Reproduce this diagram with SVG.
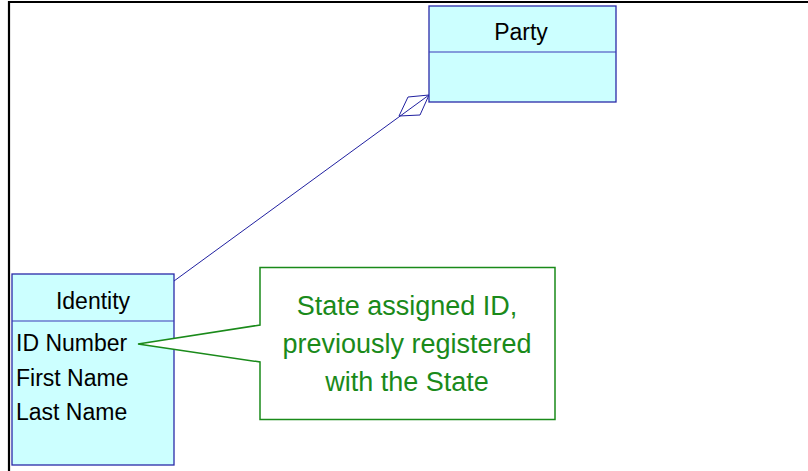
<svg xmlns="http://www.w3.org/2000/svg" width="808" height="471" viewBox="0 0 808 471">
<style>
.cls{fill:#ccffff;stroke:#2a2aa8;stroke-width:1.3}
.div{stroke:#3a3ab8;stroke-width:1.2;fill:none}
.t{font-family:"Liberation Sans",Arial,sans-serif;font-size:23px;fill:#000}
.note{fill:#fff;stroke:#1a8a1a;stroke-width:1.5}
.nt{font-family:"Liberation Sans",Arial,sans-serif;font-size:27px;fill:#1a8a1a;text-anchor:middle}
.conn{stroke:#2020a0;stroke-width:1;fill:none}
</style>
<rect x="0" y="0" width="808" height="471" fill="#fff"/>
<path d="M9 471 V2 H808" fill="none" stroke="#000" stroke-width="2.2"/>
<g id="connectors">
<line class="conn" x1="174" y1="281" x2="429" y2="95"/>
<polygon class="conn" points="429,95 408,97 399,116 420,115"/>
</g>
<g id="party">
<rect class="cls" x="429" y="6" width="187" height="96"/>
<line class="div" x1="429" y1="52" x2="616" y2="52"/>
<text class="t" x="521" y="40" text-anchor="middle">Party</text>
</g>
<g id="identity">
<rect class="cls" x="12" y="274" width="162" height="191"/>
<line class="div" x1="12" y1="321" x2="174" y2="321"/>
<text class="t" x="93" y="309" text-anchor="middle">Identity</text>
<text class="t" x="16" y="351">ID Number</text>
<text class="t" x="16" y="386">First Name</text>
<text class="t" x="16" y="420">Last Name</text>
</g>
<g id="note">
<path class="note" d="M260 267.5 H555 V419.5 H260 V362 L138 344 L260 325 Z"/>
<text class="nt" x="407" y="315">State assigned ID,</text>
<text class="nt" x="407" y="353">previously registered</text>
<text class="nt" x="407" y="391">with the State</text>
</g>
</svg>
